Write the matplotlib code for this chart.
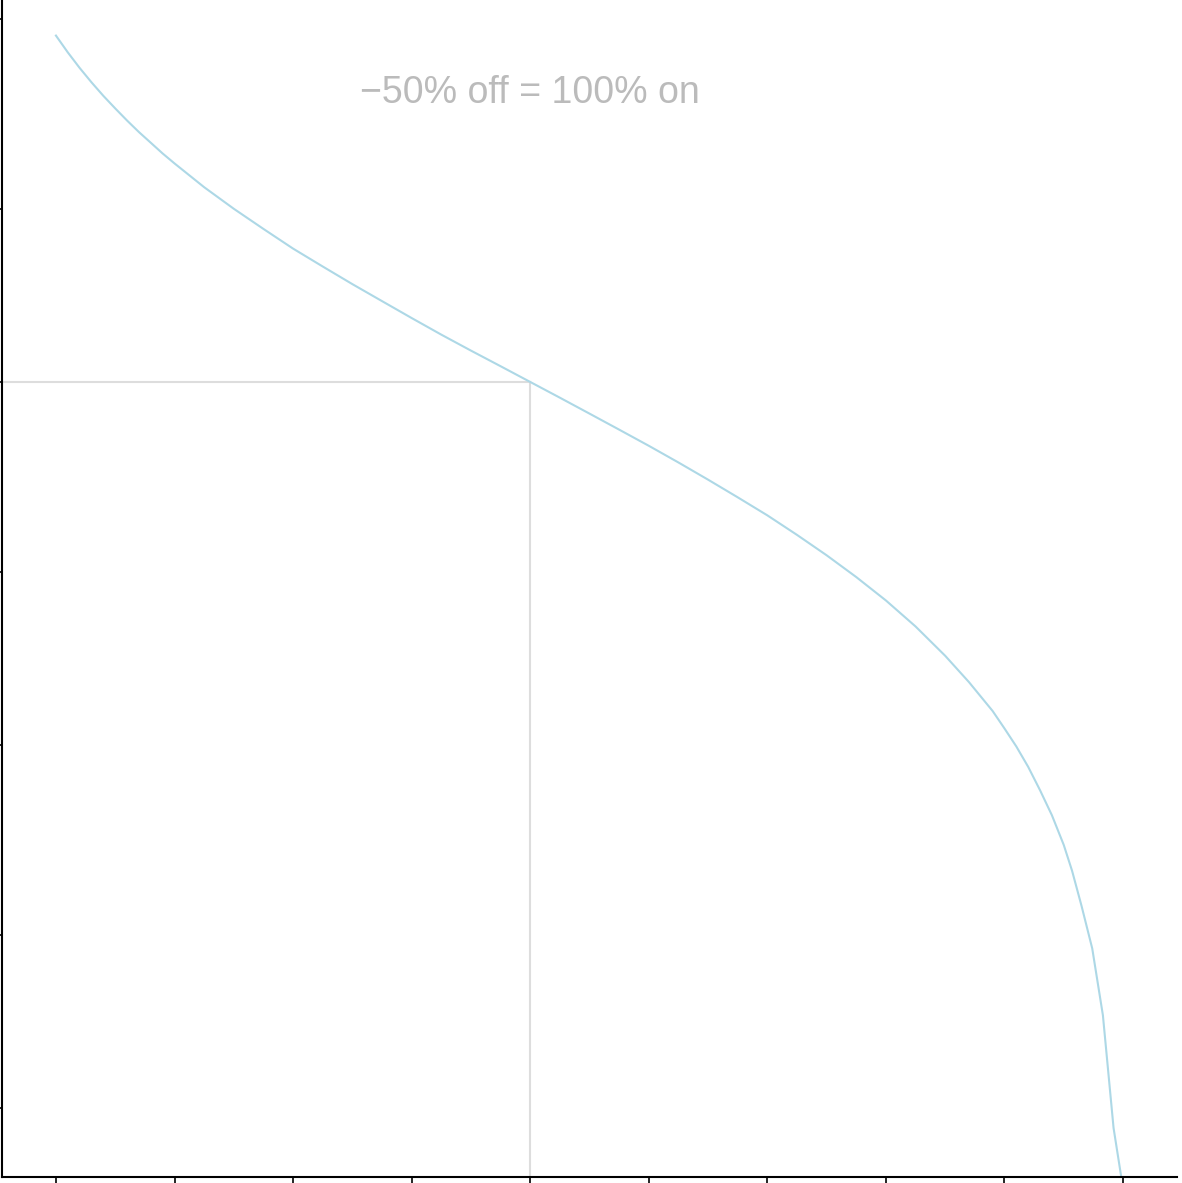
import numpy as np
import matplotlib
matplotlib.use('Agg')
from matplotlib import pyplot as plt

# discount ("off", %) vs equivalent markup ("on", %)
off_pct = [-90, -89, -88, -87, -86, -85, -84, -83, -82, -81, -80,
           -77.5, -75, -72.5, -70, -67.5, -65, -62.5, -60, -57.5, -55,
           -52.5, -50, -47.5, -45, -42.5, -40, -37.5, -35, -32.5, -30,
           -27.5, -25, -22.5, -20, -17.5, -15, -13, -11, -10, -9, -8,
           -7, -6, -5, -4.3, -3.5, -2.6, -1.7, -0.8, 0]
on_pct = [900, 809, 733, 669, 614, 567, 525, 488, 456, 426, 400,
          344, 300, 264, 233, 208, 186, 167, 150, 135, 122,
          110.5, 100, 90.5, 81.8, 73.9, 66.7, 60, 53.8, 48.1, 42.9,
          37.9, 33.3, 29.0, 25, 21.2, 17.6, 14.9, 12.4, 11.1, 9.9, 8.7,
          7.5, 6.4, 5.3, 4.5, 3.6, 2.75, 1.8, 0.88, 0.6]
x_ticks = [-90, -80, -70, -60, -50, -40, -30, -20, -10, 0]
y_ticks = [1, 3, 10, 30, 100, 300, 1000]
mark_off, mark_on = -50, 100

plt.rcParams['font.family'] = ['Liberation Sans', 'DejaVu Sans']

fig = plt.figure(figsize=(11.82, 11.83), dpi=100)
ax = fig.add_axes([2 / 1182, 6 / 1183, 1175 / 1182, 1177 / 1183])

ax.set_yscale('log')
ax.set_xlim(-94.55, 4.55)
ax.set_ylim(0.645, 1128)

# crosshair at the -50% point
ax.plot([-94.55, mark_off], [mark_on, mark_on], color='#dddddd', lw=1.5, zorder=1)
ax.plot([mark_off, mark_off], [mark_on, 0.645], color='#dddddd', lw=1.5, zorder=1)

ax.plot(off_pct, on_pct, color='#add8e6', lw=1.5, zorder=2)

ax.text(mark_off, 625, '\u221250% off = 100% on', color='#bbbbbb',
        fontsize=27, ha='center', va='center')

for s in ['top', 'right']:
    ax.spines[s].set_visible(False)
for s in ['left', 'bottom']:
    ax.spines[s].set_linewidth(1.5)
ax.set_xticks(x_ticks)
ax.set_yticks(y_ticks)
ax.yaxis.set_minor_locator(matplotlib.ticker.NullLocator())
ax.tick_params(length=6, width=1.2, labelbottom=False, labelleft=False)

fig.savefig('out.png', dpi=100)
